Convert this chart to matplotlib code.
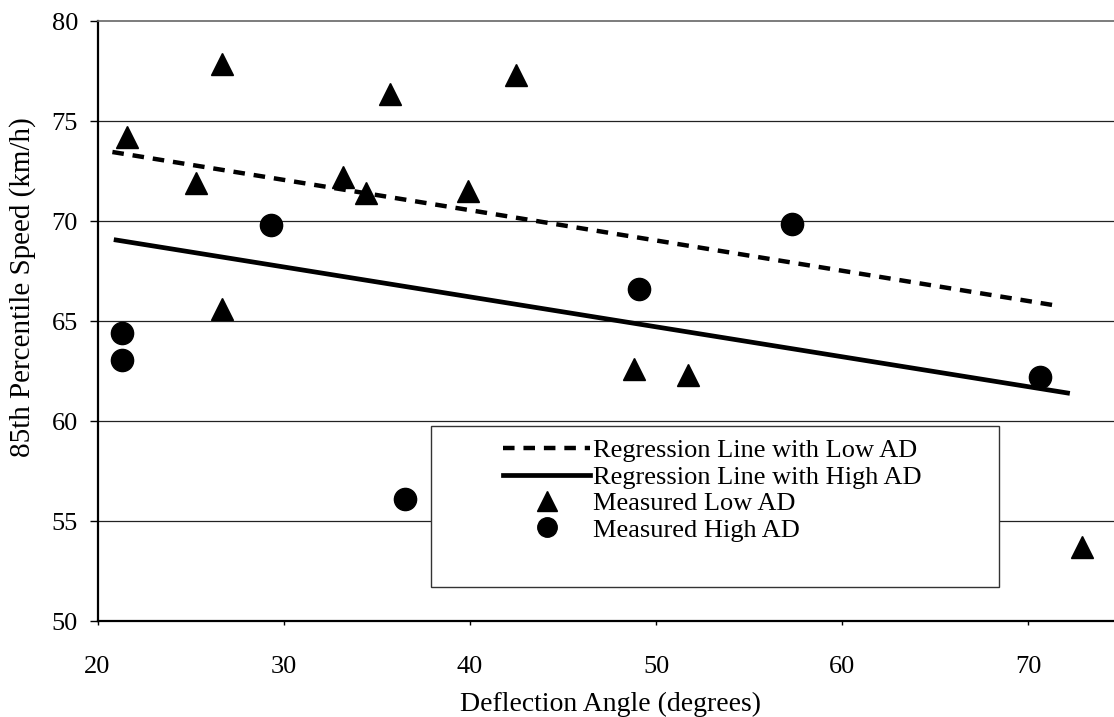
import matplotlib
matplotlib.use("Agg")
import matplotlib.pyplot as plt
from matplotlib.patches import Rectangle
from matplotlib.lines import Line2D

plt.rcParams['font.family'] = ['Liberation Serif', 'DejaVu Serif']

# measured points, low AD (triangles)
low_x = [21.6, 25.3, 26.7, 26.7, 33.2, 34.4, 35.7, 39.9, 42.5, 48.8, 51.7, 72.9]
low_y = [74.2, 71.9, 77.85, 65.6, 72.2, 71.4, 76.35, 71.5, 77.3, 62.6, 62.3, 53.7]

# measured points, high AD (circles)
high_x = [21.3, 21.3, 29.3, 36.5, 49.1, 57.3, 70.6]
high_y = [64.4, 63.05, 69.8, 56.1, 66.6, 69.85, 62.2]

# regression line end points
low_line_x = [20.8, 71.3]
low_line_y = [73.45, 65.8]
high_line_x = [21.0, 72.1]
high_line_y = [69.05, 61.4]

x_ticks = [20, 30, 40, 50, 60, 70]
y_ticks = [50, 55, 60, 65, 70, 75, 80]

W, H = 1114, 717
fig = plt.figure(figsize=(W / 100, H / 100), dpi=100)
ax = fig.add_axes([97.5 / W, 1 - 621 / H, (W - 97.5) / W, 600 / H])

ax.set_xlim(20, 20 + (W - 98.5) / 18.6)
ax.set_ylim(50, 80)
ax.set_xticks(x_ticks)
ax.set_yticks(y_ticks)

for v in y_ticks[1:-1]:
    ax.axhline(v, color='#222222', lw=0.9, zorder=1)

ax.plot(low_line_x, low_line_y, color='black', lw=3.2, dashes=(2.6, 2.0),
        solid_capstyle='butt', zorder=3)
ax.plot(high_line_x, high_line_y, color='black', lw=3.4, zorder=3)
ax.plot(low_x, low_y, linestyle='none', marker='^', ms=16, color='black', zorder=4)
ax.plot(high_x, high_y, linestyle='none', marker='o', ms=16, color='black', zorder=4)

ax.spines['right'].set_visible(False)
ax.spines['top'].set_color('#666666')
ax.spines['top'].set_linewidth(1.2)
ax.spines['left'].set_linewidth(1.6)
ax.spines['bottom'].set_linewidth(1.6)

ax.tick_params(axis='y', direction='out', length=6, width=1, pad=8, labelsize=19)
ax.tick_params(axis='x', direction='out', length=3, width=1, pad=22, labelsize=19)

fig.text(23 / W, 1 - 287 / H, '85th Percentile Speed (km/h)', rotation=90,
         ha='center', va='center', fontsize=21)
fig.text(611 / W, 1 - 704 / H, 'Deflection Angle (degrees)',
         ha='center', va='center', fontsize=20)

# legend box
def to_ax(px, py):
    inv = ax.transAxes.inverted()
    return inv.transform(fig.transFigure.transform((px / W, 1 - py / H)))

x0, y0 = to_ax(431, 587)
x1, y1 = to_ax(999, 426)
ax.add_patch(Rectangle((x0, y0), x1 - x0, y1 - y0, transform=ax.transAxes,
                       facecolor='white', edgecolor='#333333', lw=1.0, zorder=5))

handles = [
    Line2D([], [], color='black', lw=3.2, dashes=(2.6, 2.0)),
    Line2D([], [], color='black', lw=3.4),
    Line2D([], [], linestyle='none', marker='^', ms=14, color='black'),
    Line2D([], [], linestyle='none', marker='o', ms=14, color='black'),
]
labels = ['Regression Line with Low AD', 'Regression Line with High AD',
          'Measured Low AD', 'Measured High AD']
lx, ly = to_ax(503, 439)
leg = ax.legend(handles, labels, loc='upper left', bbox_to_anchor=(lx, ly),
                frameon=False, fontsize=19, handlelength=3.3, handletextpad=0.1,
                labelspacing=0.11, borderpad=0, borderaxespad=0)
leg.set_zorder(6)

fig.savefig('out.png', dpi=100, facecolor='white')
